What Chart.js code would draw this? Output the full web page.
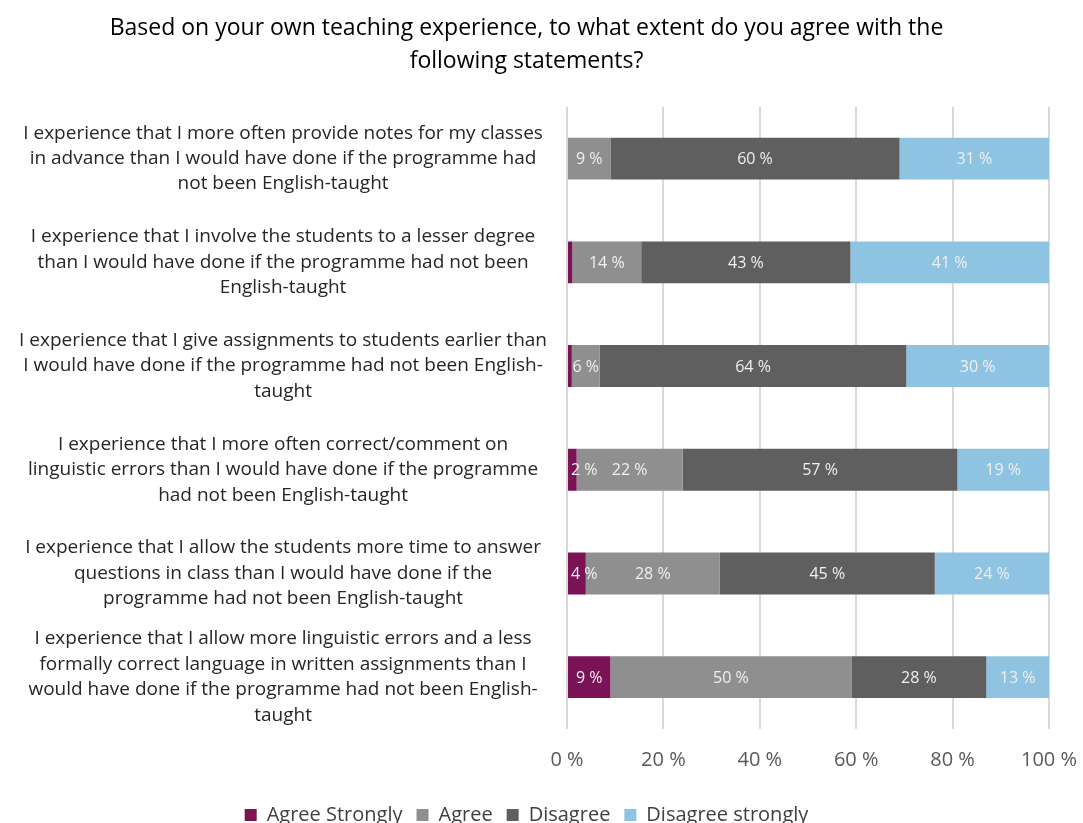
<!DOCTYPE html>
<html>
<head>
<meta charset="utf-8">
<script src="https://cdn.jsdelivr.net/npm/chart.js@4.4.0/dist/chart.umd.min.js"></script>
<style>
  html, body { margin: 0; padding: 0; background: #fff; overflow: hidden; }
  #wrap { width: 1083px; height: 823px; overflow: hidden; }
</style>
</head>
<body>
<div id="wrap"><canvas id="chart" width="1083" height="835"></canvas></div>
<script>
// Survey statements (y categories), pre-broken into lines
const statements = [
  ["I experience that I more often provide notes for my classes", "in advance than I would have done if the programme had", "not been English-taught"],
  ["I experience that I involve the students to a lesser degree", "than I would have done if the programme had not been", "English-taught"],
  ["I experience that I give assignments to students earlier than", "I would have done if the programme had not been English-", "taught"],
  ["I experience that I more often correct/comment on", "linguistic errors than I would have done if the programme", "had not been English-taught"],
  ["I experience that I allow the students more time to answer", "questions in class than I would have done if the", "programme had not been English-taught"],
  ["I experience that I allow more linguistic errors and a less", "formally correct language in written assignments than I", "would have done if the programme had not been English-", "taught"]
];

// Share of answers per statement, in percent
const agreeStrongly    = [0, 1.1, 1.0, 2, 3.9, 9];
const agree            = [9, 14.3, 5.8, 22, 27.8, 50];
const disagree         = [60, 43.4, 63.6, 57, 44.6, 28];
const disagreeStrongly = [31, 41.2, 29.6, 19, 23.7, 13];

const seriesNames = ["Agree Strongly", "Agree", "Disagree", "Disagree strongly"];
const seriesColors = ["#7a1255", "#8f8f8f", "#5f5f5f", "#8ec3e2"];
const xTickValues = [0, 20, 40, 60, 80, 100];

const FONT = '"Open Sans", "Noto Sans", sans-serif';

// Write the rounded percentage in the middle of each segment,
// nudged right when it would spill past the start of the axis
const barLabels = {
  id: "barLabels",
  afterDatasetsDraw(chart) {
    const ctx = chart.ctx;
    const left = chart.chartArea.left;
    ctx.save();
    ctx.font = "16px " + FONT;
    ctx.fillStyle = "#f0f0f0";
    ctx.textAlign = "center";
    ctx.textBaseline = "middle";
    chart.data.datasets.forEach((ds, i) => {
      chart.getDatasetMeta(i).data.forEach((bar, j) => {
        const v = Math.round(ds.data[j]);
        if (v < 2) return;
        const text = v + " %";
        const w = ctx.measureText(text).width;
        const p = bar.getCenterPoint();
        const x = Math.max(p.x, left + 4 + w / 2);
        ctx.fillText(text, x, p.y + 1);
      });
    });
    ctx.restore();
  }
};

const values = [agreeStrongly, agree, disagree, disagreeStrongly];

new Chart(document.getElementById("chart"), {
  type: "bar",
  data: {
    labels: statements,
    datasets: seriesNames.map((name, i) => ({
      label: name,
      data: values[i],
      backgroundColor: seriesColors[i],
      borderWidth: 0,
      barPercentage: 0.404,
      categoryPercentage: 1
    }))
  },
  options: {
    indexAxis: "y",
    responsive: false,
    animation: false,
    layout: { padding: { left: 4, right: 34, top: 4, bottom: 0 } },
    scales: {
      x: {
        stacked: true,
        min: 0,
        max: 100,
        afterBuildTicks: (scale) => { scale.ticks = xTickValues.map(v => ({ value: v })); },
        // the "100 %" label may hang over the right edge of the plot
        afterFit: (scale) => { scale.paddingRight = 0; },
        grid: { color: "#d9d9d9", lineWidth: 2, drawTicks: false },
        border: { display: false },
        ticks: {
          color: "#595959",
          font: { family: FONT, size: 20 },
          padding: 19,
          callback: (v) => v + " %"
        }
      },
      y: {
        stacked: true,
        grid: { display: false },
        border: { display: false },
        afterFit: (scale) => { scale.width = 563; },
        ticks: {
          color: "#262626",
          font: { family: FONT, size: 19, lineHeight: 1.34 },
          crossAlign: "center",
          padding: 12,
          autoSkip: false
        }
      }
    },
    plugins: {
      title: {
        display: true,
        text: ["Based on your own teaching experience, to what extent do you agree with the", "following statements?"],
        color: "#000",
        font: { family: FONT, size: 23, weight: "normal", lineHeight: 1.43 },
        padding: { top: 8, bottom: 29 }
      },
      legend: {
        position: "bottom",
        labels: {
          color: "#404040",
          font: { family: FONT, size: 20 },
          boxWidth: 12,
          boxHeight: 12,
          padding: 14
        }
      },
      tooltip: { enabled: false }
    }
  },
  plugins: [barLabels]
});
</script>
</body>
</html>
